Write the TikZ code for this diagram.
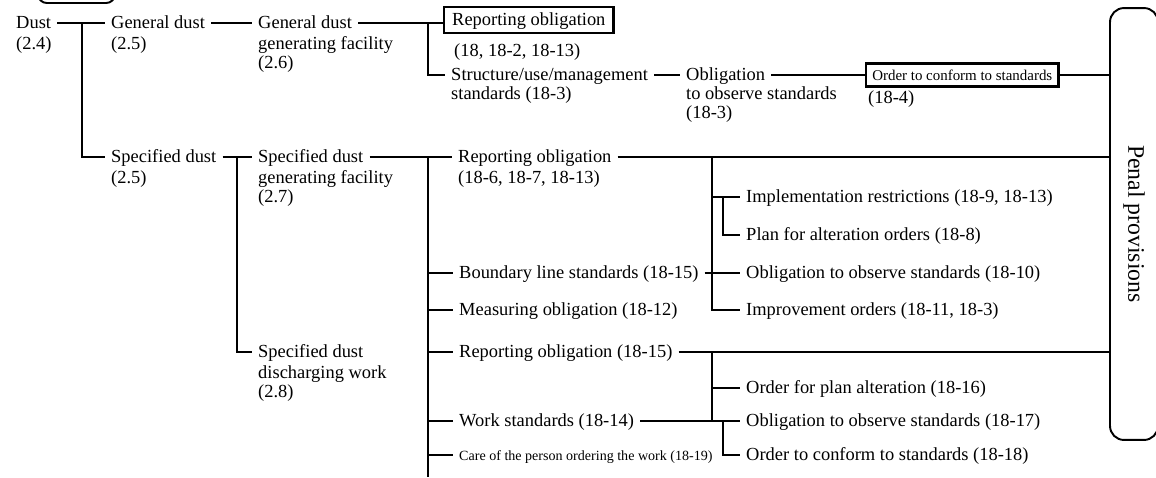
\documentclass[tikz,border=0pt]{standalone}
\usepackage{fontspec}
\setmainfont{Liberation Serif}
\usetikzlibrary{positioning}

\begin{document}
\begin{tikzpicture}[x=0.02cm, y=-0.02cm, line width=1.1pt,
    txt/.style={anchor=west, font=\fontsize{10.5}{10.8}\selectfont, inner xsep=3pt, inner ysep=1pt, text height=1.5ex, text depth=.25ex},
    sub/.style={anchor=north west, align=left, font=\fontsize{10.5}{10.8}\selectfont, inner xsep=3pt, inner ysep=0pt},
    tiny/.style={font=\fontsize{8}{9}\selectfont},
    obox/.style={draw, line width=1.3pt, inner xsep=4.6pt, inner ysep=3.5pt}]
  \useasboundingbox (0,0) rectangle (1156,477);
  % box cut off at the top
  \draw[rounded corners=5pt] (38,-30) rectangle (115,3);

  % left part of the tree
  \node[txt] (dust) at (10,23) {Dust};
  \node[below=1.5pt of dust.south west, sub] (dustno) {(2.4)};
  \node[txt] (gen) at (105,23) {General dust};
  \node[below=1.5pt of gen.south west, sub] (genno) {(2.5)};
  \node[txt] (spec) at (105,157) {Specified dust};
  \node[below=1.5pt of spec.south west, sub] (specno) {(2.5)};
  \node[txt] (genfac) at (252,23) {General dust};
  \node[below=1.5pt of genfac.south west, sub] (genfacno) {generating facility\\(2.6)};
  \node[txt] (specfac) at (252,157) {Specified dust};
  \node[below=1.5pt of specfac.south west, sub] (specfacno) {generating facility\\(2.7)};
  \node[txt] (specwork) at (252,352) {Specified dust};
  \node[below=1.5pt of specwork.south west, sub] (specworkno) {discharging work\\(2.8)};

  % general dust facility
  \node[txt, obox] (rep1) at (443,20) {Reporting obligation};
  \node[txt] (rep1no) at (448,51) {(18, 18-2, 18-13)};
  \node[txt] (struct) at (445,75) {Structure/use/management};
  \node[below=0.8pt of struct.south west, sub] (structno) {standards (18-3)};
  \node[txt] (obl) at (680,75) {Obligation};
  \node[below=0.8pt of obl.south west, sub] (oblno) {to observe standards\\(18-3)};
  \node[txt, obox, font=\fontsize{8.5}{9}\selectfont, inner xsep=3.5pt, inner ysep=2.5pt] (order) at (865,75) {Order to conform to standards};
  \node[txt] (orderno) at (862,98) {(18-4)};

  % specified dust facility and work
  \node[txt] (rep2) at (452,157) {Reporting obligation};
  \node[below=1.5pt of rep2.south west, sub] (rep2no) {(18-6, 18-7, 18-13)};
  \node[txt] (bound) at (453,273) {Boundary line standards (18-15)};
  \node[txt] (meas) at (453,310) {Measuring obligation (18-12)};
  \node[txt] (rep3) at (453,352) {Reporting obligation (18-15)};
  \node[txt] (work) at (453,421) {Work standards (18-14)};
  \node[txt, tiny] (care) at (453,455) {Care of the person ordering the work (18-19)};

  \node[txt] (impl) at (740,197) {Implementation restrictions (18-9, 18-13)};
  \node[txt] (plan) at (740,235) {Plan for alteration orders (18-8)};
  \node[txt] (obs1) at (740,273) {Obligation to observe standards (18-10)};
  \node[txt] (impr) at (740,310) {Improvement orders (18-11, 18-3)};
  \node[txt] (planalt) at (740,388) {Order for plan alteration (18-16)};
  \node[txt] (obs2) at (740,421) {Obligation to observe standards (18-17)};
  \node[txt] (conf) at (740,455) {Order to conform to standards (18-18)};

  \node[draw, rounded corners=8pt, rotate=-90, minimum width=8.64cm, minimum height=0.96cm, inner sep=0pt, font=\fontsize{13.5}{13.5}\selectfont] (penal) at (1134,224) {Penal provisions};

  % connectors
  \coordinate (j1) at (82,23);
  \coordinate (j2) at (237,157);
  \coordinate (j3) at (428,23);
  \coordinate (j4) at (428,157);
  \coordinate (j4end) at (428,477);
  \coordinate (j5) at (712,157);
  \coordinate (j6) at (723,197);
  \coordinate (j7) at (712,352);
  \coordinate (j8) at (723,421);

  \draw (dust) -- (gen);
  \draw (j1) |- (spec);
  \draw (gen) -- (genfac);
  \draw (spec) -- (specfac);
  \draw (j2) |- (specwork);
  \draw (genfac) -- (genfac -| rep1.west);
  \draw (j3) |- (struct);
  \draw (struct) -- (obl);
  \draw (obl) -- (order);
  \draw (order) -- (order -| penal.south);
  \draw (specfac) -- (rep2);
  \draw (j4) -- (j4end);
  \foreach \n in {bound,meas,rep3,work,care}
    \draw (j4 |- \n) -- (\n);
  \draw (rep2) -- (rep2 -| penal.south);
  \draw (j5) |- (impr);
  \draw (j5 |- impl) -- (impl);
  \draw (bound) -- (obs1);
  \draw (j6) |- (plan);
  \draw (rep3) -- (rep3 -| penal.south);
  \draw (j7) -- (j7 |- work);
  \draw (j7 |- planalt) -- (planalt);
  \draw (work) -- (obs2);
  \draw (j8) |- (conf);
\end{tikzpicture}
\end{document}
